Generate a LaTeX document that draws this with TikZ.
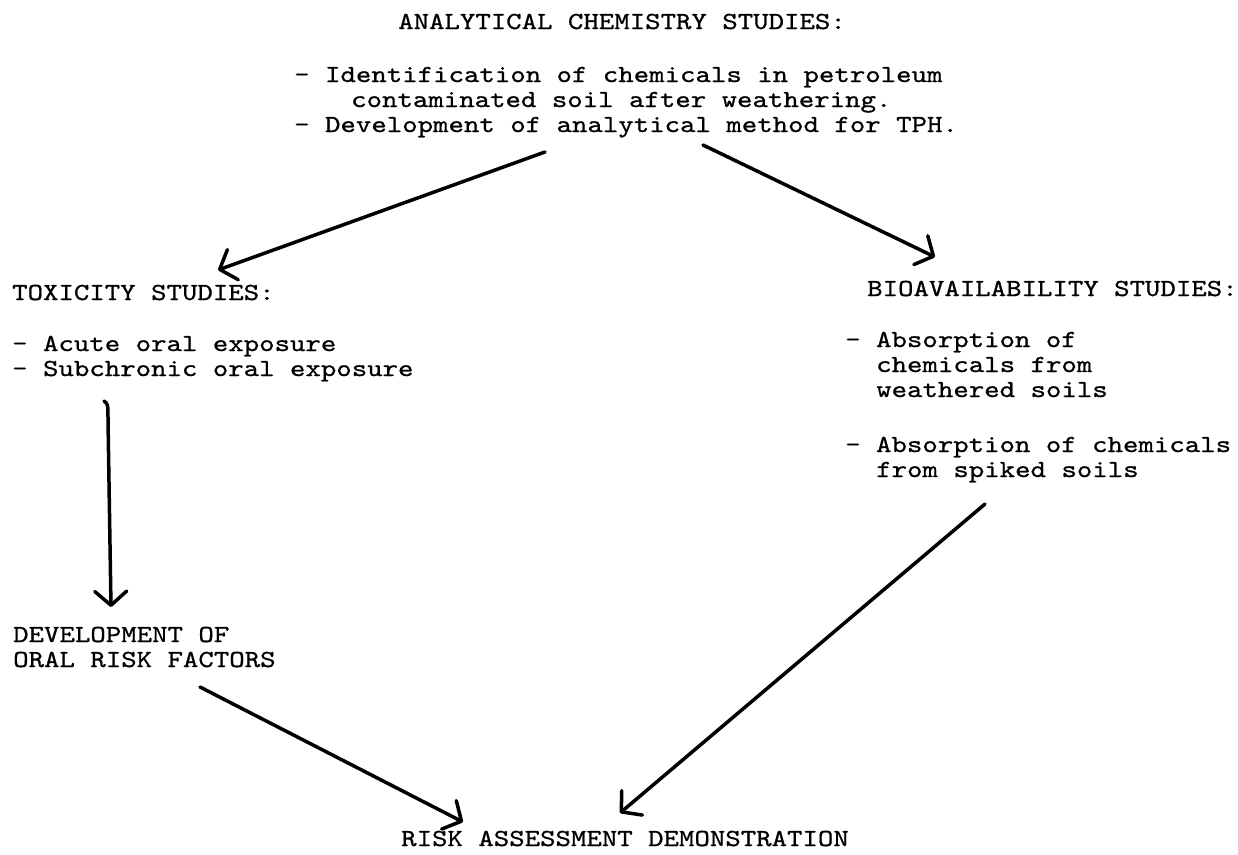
\documentclass[tikz,border=0pt]{standalone}
\usepackage{fontspec}
\newfontfamily\tw{lmmono10-regular.otf}[FakeStretch=1.2,FakeBold=0.8]
\usetikzlibrary{arrows.meta}
\begin{document}
\begin{tikzpicture}[x=1pt,y=-1pt,
  txt/.style={anchor=base west, inner sep=0pt, font=\tw\fontsize{24.5}{25}\selectfont},
  arr/.style={line width=3.5pt, line cap=round, line join=round,
    -{Straight Barb[length=14pt,width=32pt,round]}}]
\useasboundingbox (0,0) rectangle (1238,854);
% top block
\node[txt] (t0) at (398,29) {ANALYTICAL CHEMISTRY STUDIES:};
\node[txt] (t1) at (294,82) {- Identification of chemicals in petroleum};
\node[txt] (t2) at (351,107) {contaminated soil after weathering.};
\node[txt] (t3) at (294,132) {- Development of analytical method for TPH.};
% toxicity
\node[txt] (x0) at (12,300) {TOXICITY STUDIES:};
\node[txt] (x1) at (12,351) {- Acute oral exposure};
\node[txt] (x2) at (12,376) {- Subchronic oral exposure};
% bioavailability
\node[txt] (b0) at (867,296) {BIOAVAILABILITY STUDIES:};
\node[txt] (b1) at (845,347) {- Absorption of};
\node[txt] (b2) at (876,372) {chemicals from};
\node[txt] (b3) at (876,397) {weathered soils};
\node[txt] (b4) at (845,452) {- Absorption of chemicals};
\node[txt] (b5) at (876,477) {from spiked soils};
% oral risk
\node[txt] (d0) at (13,642) {DEVELOPMENT OF};
\node[txt] (d1) at (13,667) {ORAL RISK FACTORS};
% bottom
\node[txt] (r0) at (401,846) {RISK ASSESSMENT DEMONSTRATION};
% arrow end points
\coordinate (a1s) at (545,152); \coordinate (a1e) at (218,270);
\coordinate (a2s) at (703,145); \coordinate (a2e) at (935,257);
\coordinate (a3s) at (104,401); \coordinate (a3m) at (108,420); \coordinate (a3e) at (111,607);
\coordinate (a4s) at (200,687); \coordinate (a4e) at (463,822);
\coordinate (a5s) at (985,504); \coordinate (a5e) at (620,813);
\draw[arr] (a1s) -- (a1e);
\draw[arr] (a2s) -- (a2e);
\draw[arr] (a3s) .. controls (108,404) .. (a3m) -- (a3e);
\draw[arr] (a4s) -- (a4e);
\draw[arr] (a5s) -- (a5e);
\end{tikzpicture}
\end{document}
